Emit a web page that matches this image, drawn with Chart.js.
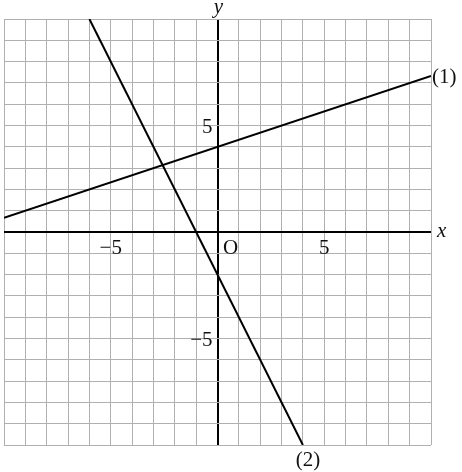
<!DOCTYPE html>
<html>
<head>
<meta charset="utf-8">
<script src="https://cdn.jsdelivr.net/npm/chart.js@4"></script>
<style>
html,body{margin:0;padding:0;background:#fff;}
canvas{display:block;}
</style>
</head>
<body>
<canvas id="c" width="462" height="472"></canvas>
<script>
// Data
const axisMin = -10;
const axisMax = 10;
const line1X = [-10, 10];
const line1Y = [0.67, 7.33];
const line2X = [-6, 4];
const line2Y = [10, -10];
const seriesLabels = ['(1)', '(2)'];
const xTickValues = [-5, 5];
const xTickLabels = ['\u22125', '5'];
const yTickValues = [5, -5];
const yTickLabels = ['5', '\u22125'];
const originLabel = 'O';
const axisNames = ['x', 'y'];

const toPts = (xs, ys) => xs.map((x, i) => ({x: x, y: ys[i]}));
const FONT = '"Liberation Serif", "DejaVu Serif", serif';

const labelsPlugin = {
  id: 'labels',
  afterDraw(chart) {
    const ctx = chart.ctx;
    const xs = chart.scales.x, ys = chart.scales.y;
    const x0 = xs.getPixelForValue(0), y0 = ys.getPixelForValue(0);
    ctx.save();
    ctx.fillStyle = '#111';
    ctx.font = '21px ' + FONT;
    ctx.textBaseline = 'middle';
    ctx.textAlign = 'center';
    xTickValues.forEach((v, i) => {
      ctx.fillText(xTickLabels[i], xs.getPixelForValue(v), y0 + 16);
    });
    ctx.fillText(originLabel, x0 + 13, y0 + 16);
    ctx.textAlign = 'right';
    yTickValues.forEach((v, i) => {
      ctx.fillText(yTickLabels[i], x0 - 5, ys.getPixelForValue(v) + 2);
    });
    ctx.font = 'italic 21px ' + FONT;
    ctx.textAlign = 'left';
    ctx.fillText(axisNames[0], xs.getPixelForValue(axisMax) + 6, y0 - 1);
    ctx.textAlign = 'center';
    ctx.fillText(axisNames[1], x0 + 1, ys.getPixelForValue(axisMax) - 12);
    ctx.font = '21px ' + FONT;
    const d1 = chart.data.datasets[0].data;
    const e1 = d1[d1.length - 1];
    ctx.textAlign = 'left';
    ctx.fillText(seriesLabels[0], xs.getPixelForValue(e1.x) + 1, ys.getPixelForValue(e1.y) + 2);
    const d2 = chart.data.datasets[1].data;
    const e2 = d2[d2.length - 1];
    ctx.textAlign = 'center';
    ctx.fillText(seriesLabels[1], xs.getPixelForValue(e2.x) + 5, ys.getPixelForValue(e2.y) + 15);
    ctx.restore();
  }
};

const gridColor = c => (c.tick && c.tick.value === 0) ? '#000' : '#b0b0b0';
const gridWidth = c => (c.tick && c.tick.value === 0) ? 2 : 1;

new Chart(document.getElementById('c'), {
  type: 'scatter',
  data: {
    datasets: [
      {label: seriesLabels[0], data: toPts(line1X, line1Y), showLine: true, borderColor: '#000', borderWidth: 2, pointRadius: 0, fill: false},
      {label: seriesLabels[1], data: toPts(line2X, line2Y), showLine: true, borderColor: '#000', borderWidth: 2, pointRadius: 0, fill: false}
    ]
  },
  options: {
    responsive: false,
    animation: false,
    devicePixelRatio: 1,
    layout: {padding: {left: 4, right: 31, top: 19, bottom: 27}},
    plugins: {legend: {display: false}, tooltip: {enabled: false}},
    scales: {
      x: {
        type: 'linear', min: axisMin, max: axisMax,
        ticks: {display: false, stepSize: 1},
        border: {display: false},
        grid: {color: gridColor, lineWidth: gridWidth, drawTicks: false}
      },
      y: {
        type: 'linear', min: axisMin, max: axisMax,
        ticks: {display: false, stepSize: 1},
        border: {display: false},
        grid: {color: gridColor, lineWidth: gridWidth, drawTicks: false}
      }
    }
  },
  plugins: [labelsPlugin]
});
</script>
</body>
</html>
